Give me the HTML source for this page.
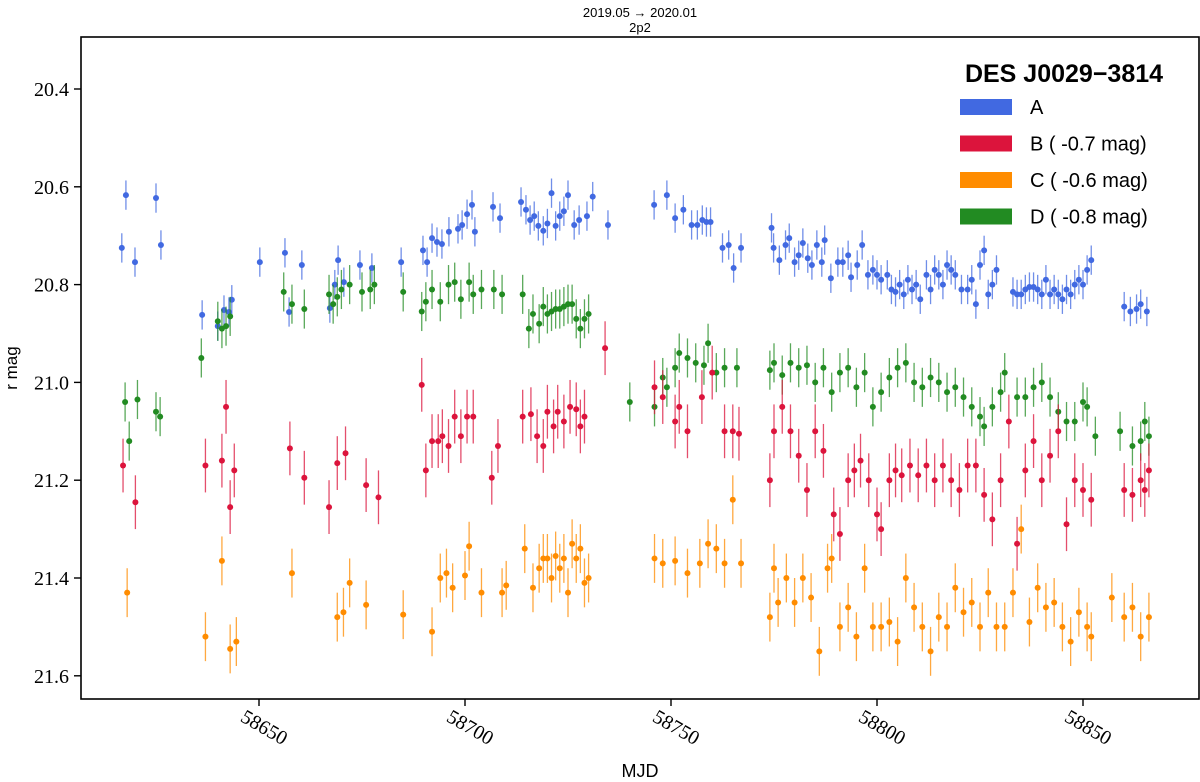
<!DOCTYPE html>
<html><head><meta charset="utf-8"><style>
body{margin:0;background:#fff}
svg{display:block}
.tk{font-family:"Liberation Serif",serif;font-size:20px;fill:#000}
.sans{font-family:"Liberation Sans",sans-serif;fill:#000}
</style></head><body>
<svg id="chart" width="1200" height="782">
<rect width="1200" height="782" fill="#fff"/>
<text class="sans" x="640" y="17" font-size="13" text-anchor="middle">2019.05 → 2020.01</text>
<text class="sans" x="640" y="32" font-size="13" text-anchor="middle">2p2</text>
<text class="sans" x="0" y="0" font-size="17" text-anchor="middle" transform="translate(17,368) rotate(-90)">r mag</text>
<text class="sans" x="640" y="777" font-size="18" text-anchor="middle">MJD</text>
<g id="marks"></g>
<g id="axes"></g>
<g id="legend"></g>
</svg>
<script>
const xTicks=[58650,58700,58750,58800,58850];
const yTicks=[20.4,20.6,20.8,21.0,21.2,21.4,21.6];
const yTickLabels=["20.4","20.6","20.8","21.0","21.2","21.4","21.6"];
const seriesNames=["A","B ( -0.7 mag)","C ( -0.6 mag)","D ( -0.8 mag)"];
const seriesColors=["#4169e1","#dc143c","#ff8c00","#228b22"];
const seriesErr=[0.03,0.055,0.05,0.04];
const dataA=[[58616.7,20.725],[58617.7,20.617],[58619.9,20.754],[58625,20.623],[58626.2,20.719],[58636.2,20.862],[58640,20.885],[58641.5,20.852],[58642.7,20.856],[58643.4,20.831],[58650.2,20.754],[58656.3,20.735],[58657.3,20.856],[58660.4,20.76],[58667.2,20.848],[58668.4,20.80],[58669.2,20.75],[58670.6,20.795],[58674.5,20.76],[58677.4,20.766],[58684.5,20.754],[58689.8,20.73],[58690.8,20.754],[58692,20.705],[58693.2,20.713],[58694.4,20.717],[58696.1,20.692],[58698.3,20.686],[58699.3,20.678],[58700.5,20.656],[58701.7,20.637],[58702.4,20.692],[58706.8,20.641],[58708.5,20.664],[58713.6,20.631],[58714.8,20.647],[58715.8,20.668],[58716.8,20.66],[58717.8,20.68],[58719,20.69],[58720,20.675],[58721,20.613],[58722,20.68],[58723,20.66],[58724,20.65],[58725,20.617],[58726.5,20.678],[58727.7,20.668],[58729.6,20.66],[58731,20.62],[58734.7,20.678],[58745.9,20.637],[58749,20.617],[58751,20.664],[58753,20.647],[58755,20.678],[58756.4,20.678],[58757.6,20.668],[58758.6,20.672],[58759.6,20.672],[58762.5,20.725],[58764,20.719],[58765.2,20.766],[58767,20.725],[58774.4,20.684],[58774.9,20.725],[58776.3,20.75],[58777.8,20.719],[58778.7,20.705],[58780,20.754],[58781,20.74],[58782,20.715],[58783.2,20.746],[58784.2,20.76],[58785.4,20.719],[58786.6,20.754],[58787.3,20.709],[58788.8,20.787],[58790.5,20.754],[58791.7,20.754],[58793,20.74],[58793.7,20.785],[58795.2,20.76],[58796.4,20.719],[58797.8,20.78],[58799,20.77],[58800,20.78],[58801,20.79],[58802.5,20.78],[58803.5,20.81],[58804.5,20.815],[58805.5,20.80],[58806.5,20.82],[58807.5,20.79],[58808.5,20.81],[58809.5,20.80],[58810.5,20.83],[58812,20.78],[58813,20.81],[58814,20.77],[58815,20.78],[58816,20.80],[58817,20.76],[58818,20.77],[58819,20.78],[58820.5,20.81],[58822,20.81],[58823,20.79],[58824,20.84],[58825,20.76],[58826,20.73],[58827,20.82],[58828,20.80],[58829,20.77],[58833,20.815],[58834,20.82],[58835,20.82],[58836,20.81],[58837,20.805],[58838,20.805],[58839,20.81],[58840,20.82],[58841,20.79],[58842,20.82],[58843,20.81],[58844,20.82],[58845,20.83],[58846,20.81],[58847,20.82],[58848,20.80],[58849,20.79],[58850,20.8],[58851,20.77],[58852,20.75],[58860,20.845],[58861.5,20.855],[58863,20.85],[58864,20.84],[58865.5,20.855]];
const dataB=[[58617,21.17],[58620,21.245],[58637,21.17],[58641,21.16],[58642,21.05],[58643,21.255],[58644,21.18],[58657.5,21.135],[58661,21.195],[58667,21.255],[58669,21.165],[58671,21.145],[58676,21.21],[58679,21.235],[58689.5,21.005],[58690.5,21.18],[58692,21.12],[58693.5,21.12],[58694.5,21.11],[58696,21.13],[58697.5,21.07],[58699,21.11],[58700.5,21.07],[58702,21.07],[58706.5,21.195],[58708,21.13],[58714,21.07],[58716,21.065],[58717.5,21.11],[58719,21.13],[58720,21.06],[58721.5,21.09],[58722.5,21.06],[58724,21.08],[58725.5,21.05],[58727,21.055],[58728,21.09],[58729,21.07],[58734,20.93],[58746,21.01],[58748,21.03],[58751,21.08],[58752,21.05],[58754,21.1],[58757.5,21.03],[58760,20.98],[58763,21.1],[58765,21.10],[58766.5,21.105],[58774,21.2],[58775,21.1],[58777,21.05],[58779,21.1],[58781,21.15],[58783,21.22],[58785,21.1],[58787,21.14],[58789.5,21.27],[58791,21.31],[58793,21.2],[58794.5,21.18],[58796,21.16],[58798,21.2],[58800,21.27],[58801,21.3],[58803,21.2],[58804.5,21.18],[58806,21.19],[58808,21.17],[58810,21.19],[58812,21.17],[58814,21.2],[58816,21.17],[58818,21.2],[58820,21.22],[58822,21.17],[58824,21.17],[58826,21.23],[58828,21.28],[58830,21.2],[58832,21.08],[58834,21.33],[58836,21.18],[58838,21.12],[58840,21.2],[58842,21.15],[58844,21.1],[58846,21.29],[58848,21.2],[58850,21.22],[58852,21.24],[58860,21.22],[58862,21.23],[58864,21.2],[58865,21.22],[58866,21.18]];
const dataC=[[58618,21.43],[58637,21.52],[58641,21.365],[58643,21.545],[58644.5,21.53],[58658,21.39],[58669,21.48],[58670.5,21.47],[58672,21.41],[58676,21.455],[58685,21.475],[58692,21.51],[58694,21.4],[58695.5,21.39],[58697,21.42],[58700,21.395],[58701,21.335],[58704,21.43],[58709,21.43],[58710,21.415],[58714.5,21.34],[58716.5,21.42],[58718,21.38],[58719,21.36],[58720,21.36],[58721,21.4],[58722,21.355],[58723,21.38],[58724,21.36],[58725,21.43],[58726,21.33],[58727,21.36],[58728,21.34],[58729,21.41],[58730,21.4],[58746,21.36],[58748,21.37],[58751,21.365],[58754,21.39],[58757,21.37],[58759,21.33],[58761,21.34],[58763,21.37],[58765,21.24],[58767,21.37],[58774,21.48],[58775,21.38],[58776,21.45],[58778,21.4],[58780,21.45],[58782,21.4],[58784,21.44],[58786,21.55],[58788,21.38],[58789,21.36],[58791,21.5],[58793,21.46],[58795,21.52],[58797,21.38],[58799,21.5],[58801,21.5],[58803,21.49],[58805,21.53],[58807,21.4],[58809,21.46],[58811,21.5],[58813,21.55],[58815,21.48],[58817,21.5],[58819,21.42],[58821,21.47],[58823,21.45],[58825,21.5],[58827,21.43],[58829,21.5],[58831,21.5],[58833,21.43],[58835,21.3],[58837,21.49],[58839,21.42],[58841,21.46],[58843,21.45],[58845,21.5],[58847,21.53],[58849,21.47],[58851,21.5],[58852,21.52],[58857,21.44],[58860,21.48],[58862,21.46],[58864,21.52],[58866,21.48]];
const dataD=[[58617.5,21.04],[58618.5,21.12],[58620.5,21.035],[58625,21.06],[58626,21.07],[58636,20.95],[58640,20.875],[58641,20.89],[58642,20.885],[58643,20.865],[58656,20.815],[58658,20.84],[58661,20.85],[58667,20.82],[58668,20.84],[58669,20.825],[58670,20.81],[58672,20.80],[58675,20.815],[58677,20.81],[58678,20.80],[58685,20.815],[58689.5,20.855],[58690.5,20.835],[58692,20.81],[58694,20.835],[58696,20.8],[58697.5,20.795],[58699,20.83],[58701,20.795],[58702,20.82],[58704,20.81],[58707,20.81],[58709,20.82],[58714,20.82],[58715.5,20.89],[58716.5,20.86],[58718,20.88],[58719,20.845],[58720,20.86],[58721,20.855],[58722,20.85],[58723,20.85],[58724,20.845],[58725,20.84],[58726,20.84],[58727,20.87],[58728,20.89],[58729,20.87],[58730,20.86],[58740,21.04],[58746,21.05],[58748,20.99],[58749,21.01],[58751,20.97],[58752,20.94],[58754,20.95],[58756,20.96],[58758,20.965],[58759,20.92],[58761,20.98],[58763,20.97],[58766,20.97],[58774,20.975],[58775,20.96],[58777,20.985],[58779,20.96],[58781,20.97],[58783,20.965],[58785,21.0],[58787,20.97],[58789,21.02],[58791,20.98],[58793,20.97],[58795,21.01],[58797,20.98],[58799,21.05],[58801,21.02],[58803,20.99],[58805,20.97],[58807,20.96],[58809,21.0],[58811,21.01],[58813,20.99],[58815,21.0],[58817,21.02],[58819,21.01],[58821,21.03],[58823,21.05],[58825,21.07],[58826,21.09],[58828,21.05],[58830,21.02],[58831,20.98],[58834,21.03],[58836,21.03],[58838,21.01],[58840,21.0],[58842,21.03],[58844,21.06],[58846,21.08],[58848,21.08],[58850,21.04],[58851,21.05],[58853,21.11],[58859,21.1],[58862,21.13],[58864,21.12],[58865,21.08],[58866,21.11]];
const allData=[dataA,dataB,dataC,dataD];

const L=81,R=1199,T=37,B=699;
const xs=m=>259+(m-58650)*4.12;
const ys=v=>89+(v-20.4)*489;
const NS="http://www.w3.org/2000/svg";
function mk(tag,attrs,parent){const e=document.createElementNS(NS,tag);for(const k in attrs)e.setAttribute(k,attrs[k]);parent.appendChild(e);return e;}
const marks=document.getElementById('marks');
const drawOrder=[0,3,1,2];
drawOrder.forEach(si=>{
  const g=mk('g',{},marks);
  
  
  allData[si].forEach(p=>{
    const x=xs(p[0]),y=ys(p[1]),e=seriesErr[si]*489;
    const ln=mk('line',{x1:x,x2:x,y1:y-e,y2:y+e,stroke:seriesColors[si],'stroke-width':1.3,opacity:0.75},g);
    
    
    const c=mk('circle',{cx:x,cy:y,r:3,fill:seriesColors[si]},g);
    
    
  });
});
const axes=document.getElementById('axes');
const fr=mk('rect',{x:L,y:T,width:R-L,height:B-T,fill:'none',stroke:'#000','stroke-width':1.6},axes);


xTicks.forEach(t=>{
  const x=xs(t);
  mk('line',{x1:x,x2:x,y1:B,y2:B+7,stroke:'#000','stroke-width':1.4},axes);
  const tx=mk('text',{class:'tk',x:0,y:0,'text-anchor':'middle',transform:`translate(${x+2},${B+34}) rotate(30)`},axes);
  tx.textContent=t;
  
  
});
yTicks.forEach((t,i)=>{
  const y=ys(t);
  mk('line',{x1:L-7,x2:L,y1:y,y2:y,stroke:'#000','stroke-width':1.4},axes);
  const tx=mk('text',{class:'tk',x:L-12,y:y+7,'text-anchor':'end'},axes);
  tx.textContent=yTickLabels[i];
  
  
});
const leg=document.getElementById('legend');
const lt=mk('text',{class:'sans',x:1064,y:82,'font-size':25,'font-weight':'bold','text-anchor':'middle'},leg);
lt.textContent='DES J0029\u22123814';


seriesNames.forEach((n,i)=>{
  const y=107+i*36.5;
  const r=mk('rect',{x:960,y:y-8,width:52,height:16,fill:seriesColors[i]},leg);
  
  
  const t=mk('text',{class:'sans',x:1030,y:y+7,'font-size':20},leg);
  t.textContent=n;
  
  
});
</script>
</body></html>
